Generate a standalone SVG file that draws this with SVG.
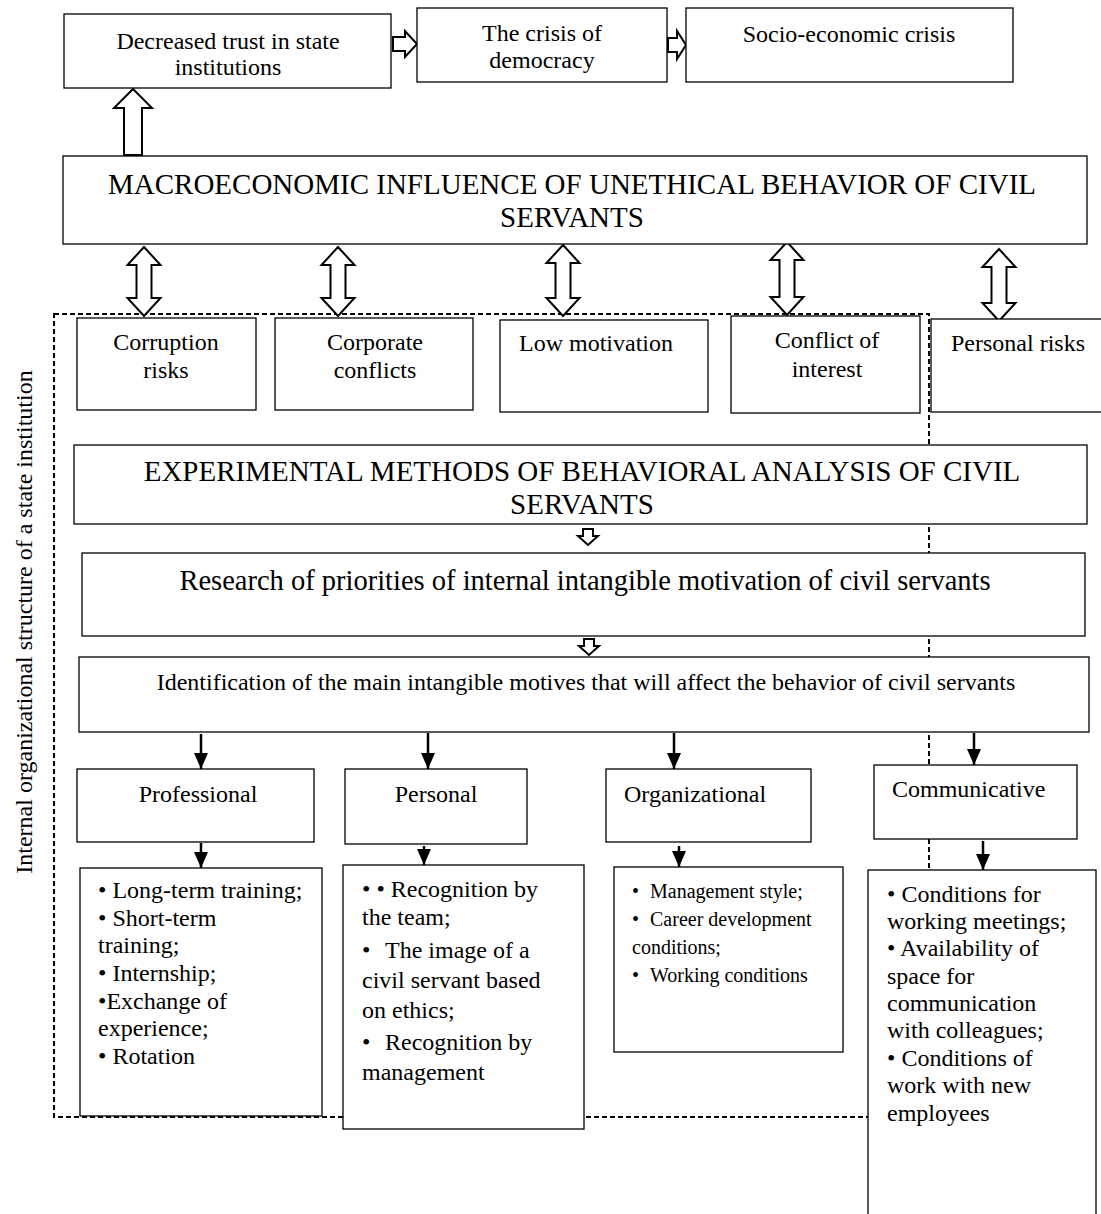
<svg xmlns="http://www.w3.org/2000/svg" width="1101" height="1214" viewBox="0 0 1101 1214">
<style>
  .box { fill: #ffffff; stroke: #000000; stroke-width: 1.3; }
  .t { font-family: "Liberation Serif", "Times New Roman", serif; fill: #000000; }
  .t24 { font-size: 24px; }
  .t20 { font-size: 20px; }
  .t29 { font-size: 29px; }
  .mid { text-anchor: middle; }
  .hollow { fill: #ffffff; stroke: #000000; stroke-width: 2; stroke-linejoin: miter; }
  .solid { stroke: #000000; stroke-width: 2.5; fill: none; marker-end: url(#head); }
  .dash { fill: none; stroke: #000000; stroke-width: 2; stroke-dasharray: 5 3; }
</style>
<defs>
  <marker id="head" markerUnits="userSpaceOnUse" markerWidth="16" markerHeight="16" viewBox="0 0 16 16" refX="16" refY="8" orient="auto">
    <path d="M0,1 L16,8 L0,15 z" fill="#000000"/>
  </marker>
</defs>
<rect width="1101" height="1214" fill="#ffffff"/>

<g id="boundary">
  <rect class="dash" x="54" y="314" width="875" height="803"/>
  <text class="t t24 mid" x="32" y="622" transform="rotate(-90 32 622)">Internal organizational structure of a state institution</text>
</g>

<g id="connectors">
  <polygon class="hollow" points="133,89 152,108 142,108 142,155 124,155 124,108 114,108"/>
  <polygon class="hollow" points="393,37 405,37 405,31 417,44 405,57 405,51 393,51"/>
  <polygon class="hollow" points="668,38 677,38 677,31 686,45 677,59 677,52 668,52"/>
  <polygon class="hollow" points="144,247 160.5,265 151.5,265 151.5,298 160.5,298 144,316 127.5,298 136.5,298 136.5,265 127.5,265"/>
  <polygon class="hollow" points="338,247 354.5,265 345.5,265 345.5,298 354.5,298 338,316 321.5,298 330.5,298 330.5,265 321.5,265"/>
  <polygon class="hollow" points="563,245 579.5,263 570.5,263 570.5,298 579.5,298 563,316 546.5,298 555.5,298 555.5,263 546.5,263"/>
  <polygon class="hollow" points="787,242 803.5,260 794.5,260 794.5,297 803.5,297 787,315 770.5,297 779.5,297 779.5,260 770.5,260"/>
  <polygon class="hollow" points="999,249 1015.5,267 1006.5,267 1006.5,303 1015.5,303 999,321 982.5,303 991.5,303 991.5,267 982.5,267"/>
  <polygon class="hollow" points="583,529 593,529 593,536 598,536 588,545 578,536 583,536"/>
  <polygon class="hollow" points="584,639 594,639 594,646 599,646 589,655 579,646 584,646"/>
  <line class="solid" x1="201" y1="734" x2="201" y2="769"/>
  <line class="solid" x1="428" y1="733" x2="428" y2="769"/>
  <line class="solid" x1="674" y1="733" x2="674" y2="769"/>
  <line class="solid" x1="974" y1="733" x2="974" y2="765"/>
  <line class="solid" x1="201" y1="843" x2="201" y2="868"/>
  <line class="solid" x1="424" y1="846" x2="424" y2="865"/>
  <line class="solid" x1="679" y1="846" x2="679" y2="867"/>
  <line class="solid" x1="983" y1="841" x2="983" y2="870"/>
</g>

<g id="n-trust">
  <rect class="box" x="64" y="14" width="327" height="74"/>
  <text class="t t24 mid" x="228" y="49">Decreased trust in state</text>
  <text class="t t24 mid" x="228" y="75">institutions</text>
</g>
<g id="n-democracy">
  <rect class="box" x="417" y="8" width="250" height="74"/>
  <text class="t t24 mid" x="542" y="41">The crisis of</text>
  <text class="t t24 mid" x="542" y="68">democracy</text>
</g>
<g id="n-socio">
  <rect class="box" x="686" y="8" width="327" height="74"/>
  <text class="t t24 mid" x="849" y="42">Socio-economic crisis</text>
</g>
<g id="n-macro">
  <rect class="box" x="63" y="156" width="1024" height="88"/>
  <text class="t t29 mid" x="572" y="194">MACROECONOMIC INFLUENCE OF UNETHICAL BEHAVIOR OF CIVIL</text>
  <text class="t t29 mid" x="572" y="227">SERVANTS</text>
</g>
<g id="n-corruption">
  <rect class="box" x="77" y="318" width="179" height="92"/>
  <text class="t t24 mid" x="166" y="350">Corruption</text>
  <text class="t t24 mid" x="166" y="378">risks</text>
</g>
<g id="n-corporate">
  <rect class="box" x="275" y="318" width="198" height="92"/>
  <text class="t t24 mid" x="375" y="350">Corporate</text>
  <text class="t t24 mid" x="375" y="378">conflicts</text>
</g>
<g id="n-lowmotivation">
  <rect class="box" x="500" y="320" width="208" height="92"/>
  <text class="t t24 mid" x="596" y="351">Low motivation</text>
</g>
<g id="n-conflict">
  <rect class="box" x="731" y="316" width="189" height="97"/>
  <text class="t t24 mid" x="827" y="348">Conflict of</text>
  <text class="t t24 mid" x="827" y="377">interest</text>
</g>
<g id="n-personalrisks">
  <rect class="box" x="931" y="319" width="175" height="93"/>
  <text class="t t24 mid" x="1018" y="351">Personal risks</text>
</g>
<g id="n-experimental">
  <rect class="box" x="74" y="445" width="1013" height="79"/>
  <text class="t t29 mid" x="582" y="481">EXPERIMENTAL METHODS OF BEHAVIORAL ANALYSIS OF CIVIL</text>
  <text class="t t29 mid" x="582" y="514">SERVANTS</text>
</g>
<g id="n-research">
  <rect class="box" x="82" y="553" width="1003" height="83"/>
  <text class="t mid" style="font-size:28.5px" x="585" y="590">Research of priorities of internal intangible motivation of civil servants</text>
</g>
<g id="n-identification">
  <rect class="box" x="79" y="657" width="1010" height="75"/>
  <text class="t t24 mid" x="586" y="690">Identification of the main intangible motives that will affect the behavior of civil servants</text>
</g>
<g id="n-professional">
  <rect class="box" x="77" y="769" width="237" height="73"/>
  <text class="t t24 mid" x="198" y="802">Professional</text>
</g>
<g id="n-personal">
  <rect class="box" x="345" y="769" width="182" height="75"/>
  <text class="t t24 mid" x="436" y="802">Personal</text>
</g>
<g id="n-organizational">
  <rect class="box" x="606" y="769" width="205" height="73"/>
  <text class="t t24" x="624" y="802">Organizational</text>
</g>
<g id="n-communicative">
  <rect class="box" x="874" y="765" width="203" height="74"/>
  <text class="t t24" x="892" y="797">Communicative</text>
</g>
<g id="n-professional-list">
  <rect class="box" x="80" y="868" width="242" height="248"/>
  <text class="t t24" x="98" y="898">• Long-term training;</text>
  <text class="t t24" x="98" y="926">• Short-term</text>
  <text class="t t24" x="98" y="953">training;</text>
  <text class="t t24" x="98" y="981">• Internship;</text>
  <text class="t t24" x="98" y="1009">•Exchange of</text>
  <text class="t t24" x="98" y="1036">experience;</text>
  <text class="t t24" x="98" y="1064">• Rotation</text>
</g>
<g id="n-personal-list">
  <rect class="box" x="343" y="865" width="241" height="264"/>
  <text class="t t24" x="362" y="897">• • Recognition by</text>
  <text class="t t24" x="362" y="925">the team;</text>
  <text class="t t24" x="362" y="958">•<tspan x="385">The image of a</tspan></text>
  <text class="t t24" x="362" y="988">civil servant based</text>
  <text class="t t24" x="362" y="1018">on ethics;</text>
  <text class="t t24" x="362" y="1050">•<tspan x="385">Recognition by</tspan></text>
  <text class="t t24" x="362" y="1080">management</text>
</g>
<g id="n-organizational-list">
  <rect class="box" x="614" y="867" width="229" height="185"/>
  <text class="t t20" x="632" y="898">•<tspan x="650">Management style;</tspan></text>
  <text class="t t20" x="632" y="926">•<tspan x="650">Career development</tspan></text>
  <text class="t t20" x="632" y="954">conditions;</text>
  <text class="t t20" x="632" y="982">•<tspan x="650">Working conditions</tspan></text>
</g>
<g id="n-communicative-list">
  <rect class="box" x="868" y="870" width="228" height="360"/>
  <text class="t t24" x="887" y="902">• Conditions for</text>
  <text class="t t24" x="887" y="929">working meetings;</text>
  <text class="t t24" x="887" y="956">• Availability of</text>
  <text class="t t24" x="887" y="984">space for</text>
  <text class="t t24" x="887" y="1011">communication</text>
  <text class="t t24" x="887" y="1038">with colleagues;</text>
  <text class="t t24" x="887" y="1066">• Conditions of</text>
  <text class="t t24" x="887" y="1093">work with new</text>
  <text class="t t24" x="887" y="1121">employees</text>
</g>
</svg>
